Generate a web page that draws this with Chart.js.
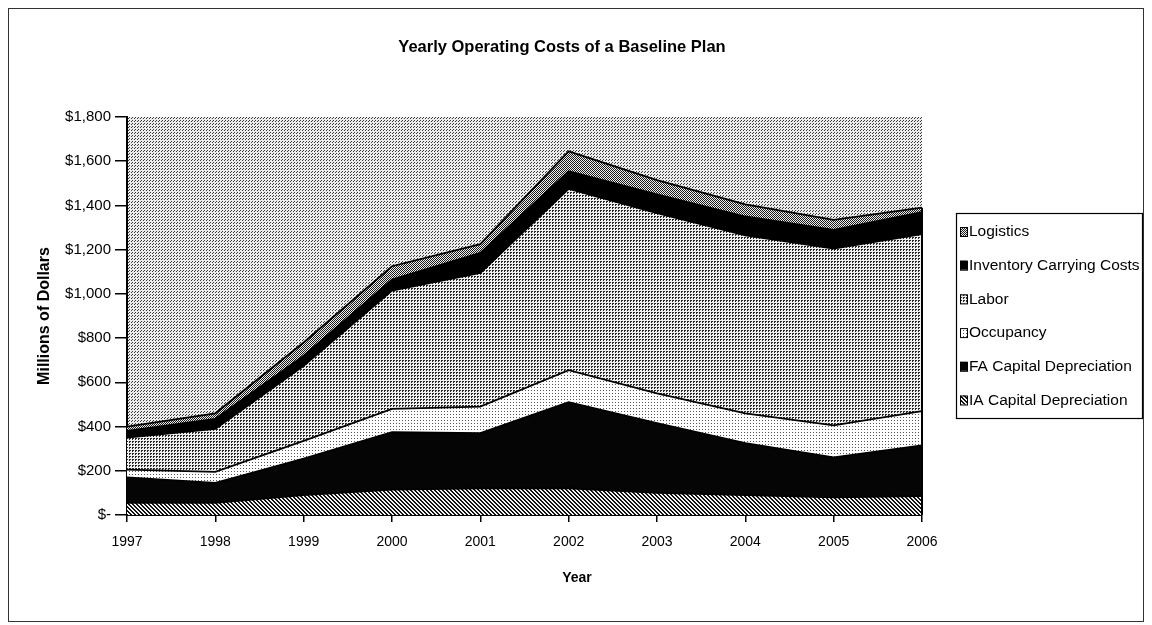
<!DOCTYPE html>
<html>
<head>
<meta charset="utf-8">
<script src="https://cdn.jsdelivr.net/npm/chart.js@4.4.1/dist/chart.umd.min.js"></script>
<style>
  html, body { margin: 0; padding: 0; background: #fff; }
  #wrap { width: 1152px; height: 625px; }
</style>
</head>
<body>
<div id="wrap"><canvas id="costChart" width="1152" height="625"></canvas></div>
<script>
// Yearly operating costs, millions of dollars, stacked bottom to top
const years = ['1997', '1998', '1999', '2000', '2001', '2002', '2003', '2004', '2005', '2006'];
const iaCapitalDepreciation = [55, 55, 90, 115, 120, 120, 100, 90, 80, 85];
const faCapitalDepreciation = [115, 90, 165, 260, 250, 390, 315, 235, 180, 230];
const occupancy = [35, 50, 80, 105, 120, 145, 135, 135, 145, 155];
const labor = [145, 195, 340, 535, 605, 820, 815, 805, 800, 800];
const inventoryCarryingCosts = [30, 45, 45, 50, 90, 80, 85, 85, 85, 100];
const logistics = [20, 25, 60, 60, 40, 90, 65, 55, 45, 20];
const yTickValues = [0, 200, 400, 600, 800, 1000, 1200, 1400, 1600, 1800];

const FONT = "'Liberation Sans', Arial, Helvetica, sans-serif";

// Small halftone tiles used as area fills
function makePattern(size, bg, fg, cells) {
  const c = document.createElement('canvas');
  c.width = c.height = size;
  const g = c.getContext('2d');
  g.fillStyle = bg;
  g.fillRect(0, 0, size, size);
  g.fillStyle = fg;
  cells.forEach(([x, y]) => g.fillRect(x, y, 1, 1));
  return g.createPattern(c, 'repeat');
}
function cellsWhere(size, test) {
  const out = [];
  for (let y = 0; y < size; y++) for (let x = 0; x < size; x++) if (test(x, y)) out.push([x, y]);
  return out;
}

const fills = {
  plot: makePattern(3, '#ececec', '#3a3a3a', [[0, 0], [2, 1]]),
  logistics: makePattern(2, '#eeeeee', '#1a1a1a', [[0, 0], [1, 1]]),
  inventory: '#000000',
  labor: makePattern(3, '#f0f0f0', '#262626', [[0, 0], [1, 0], [0, 1]]),
  occupancy: makePattern(3, '#ffffff', '#555555', [[0, 0]]),
  fa: '#050505',
  ia: makePattern(4, '#f2f2f2', '#111111', cellsWhere(4, (x, y) => ((x - y + 8) % 4) < 2))
};

const series = [
  { label: 'IA Capital Depreciation', data: iaCapitalDepreciation, fill: fills.ia },
  { label: 'FA Capital Depreciation', data: faCapitalDepreciation, fill: fills.fa },
  { label: 'Occupancy', data: occupancy, fill: fills.occupancy },
  { label: 'Labor', data: labor, fill: fills.labor },
  { label: 'Inventory Carrying Costs', data: inventoryCarryingCosts, fill: fills.inventory },
  { label: 'Logistics', data: logistics, fill: fills.logistics }
];

const datasets = series.map((s, i) => ({
  label: s.label,
  data: s.data,
  backgroundColor: s.fill,
  borderColor: '#000',
  borderWidth: 1.8,
  fill: i === 0 ? 'origin' : '-1',
  pointRadius: 0,
  tension: 0
}));

// Page background, plot fill, frame, title, axis caption and boxed legend
const decorations = {
  id: 'decorations',
  beforeDraw(chart) {
    const { ctx, chartArea: a } = chart;
    ctx.save();
    ctx.fillStyle = '#fff';
    ctx.fillRect(0, 0, chart.width, chart.height);
    ctx.fillStyle = fills.plot;
    ctx.fillRect(a.left, a.top, a.right - a.left, a.bottom - a.top);
    ctx.restore();
  },
  afterDatasetsDraw(chart) {
    // closing edge of the stacked areas at the last year
    const { ctx } = chart;
    const last = years.length - 1;
    const total = series.reduce((sum, s) => sum + s.data[last], 0);
    const x = chart.scales.x.getPixelForValue(last);
    ctx.save();
    ctx.strokeStyle = '#000';
    ctx.lineWidth = 2;
    ctx.beginPath();
    ctx.moveTo(x, chart.scales.y.getPixelForValue(total));
    ctx.lineTo(x, chart.scales.y.getPixelForValue(0));
    ctx.stroke();
    ctx.restore();
  },
  afterDraw(chart) {
    const { ctx } = chart;
    ctx.save();
    // outer frame
    ctx.strokeStyle = '#333';
    ctx.lineWidth = 1;
    ctx.strokeRect(8.5, 8.5, 1135, 613);

    ctx.fillStyle = '#000';
    ctx.textBaseline = 'middle';
    ctx.textAlign = 'center';
    ctx.font = `bold 16.5px ${FONT}`;
    ctx.fillText('Yearly Operating Costs of a Baseline Plan', 562, 47);
    ctx.font = `bold 14px ${FONT}`;
    ctx.fillText('Year', 577, 578);

    // legend, top series first
    const lx = 956.5, ly = 213.5, lw = 186, lh = 205;
    ctx.fillStyle = '#fff';
    ctx.fillRect(lx, ly, lw, lh);
    ctx.strokeStyle = '#000';
    ctx.lineWidth = 1.2;
    ctx.strokeRect(lx, ly, lw, lh);
    ctx.textAlign = 'left';
    ctx.font = `15.5px ${FONT}`;
    const items = series.slice().reverse();
    items.forEach((s, i) => {
      const cy = 231.5 + i * 33.7;
      ctx.fillStyle = s.fill;
      ctx.fillRect(960, cy - 4.5, 7, 9);
      ctx.strokeStyle = '#000';
      ctx.lineWidth = 1;
      ctx.strokeRect(960.5, cy - 4, 7, 9);
      ctx.fillStyle = '#000';
      ctx.fillText(s.label, 969, cy + 0.5);
    });
    ctx.restore();
  }
};

new Chart(document.getElementById('costChart'), {
  type: 'line',
  data: { labels: years, datasets },
  options: {
    responsive: false,
    animation: false,
    devicePixelRatio: 1,
    layout: { padding: { left: 0, top: 117, right: 230, bottom: 0 } },
    plugins: {
      legend: { display: false },
      title: { display: false },
      tooltip: { enabled: false }
    },
    scales: {
      x: {
        type: 'category',
        offset: false,
        grid: { display: true, drawOnChartArea: false, drawTicks: true, tickLength: 7, color: '#000', lineWidth: 1.5 },
        border: { display: true, color: '#000', width: 2 },
        ticks: { color: '#000', font: { family: FONT, size: 14 }, padding: 12, maxRotation: 0, autoSkip: false },
        afterFit(scale) { scale.height = 110; }
      },
      y: {
        stacked: true,
        min: 0,
        max: 1800,
        grid: { display: true, drawOnChartArea: false, drawTicks: true, tickLength: 12, color: '#000', lineWidth: 1.5 },
        border: { display: true, color: '#000', width: 2 },
        ticks: {
          color: '#000',
          font: { family: FONT, size: 15 },
          padding: 4,
          callback: v => (v === 0 ? '$-' : '$' + Number(v).toLocaleString('en-US'))
        },
        afterBuildTicks(scale) { scale.ticks = yTickValues.map(v => ({ value: v })); },
        title: {
          display: true,
          text: 'Millions of Dollars',
          color: '#000',
          font: { family: FONT, size: 16, weight: 'bold' },
          padding: { top: 35, bottom: 0 }
        },
        afterFit(scale) { scale.width = 127; }
      }
    }
  },
  plugins: [decorations]
});
</script>
</body>
</html>
